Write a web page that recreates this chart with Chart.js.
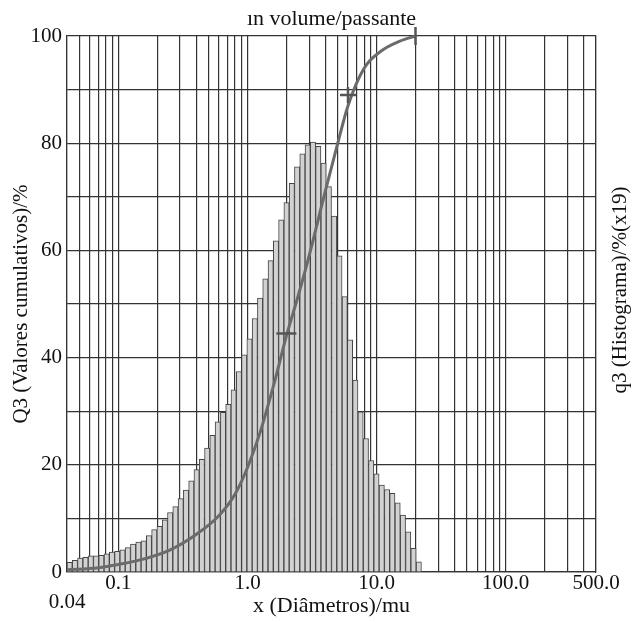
<!DOCTYPE html>
<html>
<head>
<meta charset="utf-8">
<script src="https://cdn.jsdelivr.net/npm/chart.js@4/dist/chart.umd.min.js"></script>
<style>
html,body{margin:0;padding:0;background:#fff}
canvas{display:block}
</style>
</head>
<body>
<canvas id="c" width="632" height="623"></canvas>
<script>
// ---- data ----
const xMin = 0.04;
const xMax = 500;
const binCount = 100; // size classes, log-spaced from 0.04 to 500 µm
const histValues = [
  1.8, 2.2, 2.6, 2.75, 3.0, 3.0, 3.1, 3.4, 3.7, 3.85,
  4.15, 4.55, 5.2, 5.6, 5.8, 6.8, 7.9, 8.5, 9.75, 11.1,
  12.2, 13.7, 15.3, 17.0, 19.1, 21.0, 23.1, 25.5, 28.0, 29.8,
  31.3, 34.0, 37.4, 40.5, 43.5, 47.3, 51.1, 54.7, 58.1, 61.8,
  65.7, 68.9, 72.5, 75.6, 78.0, 79.7, 80.2, 79.4, 76.3, 71.9,
  66.4, 59.0, 51.4, 43.3, 35.8, 29.9, 24.9, 20.8, 18.3, 16.2,
  15.4, 14.7, 12.9, 10.6, 7.5, 4.4, 1.9
];
const cumX = [0.04, 0.07, 0.1, 0.15, 0.25, 0.4, 0.6, 0.8, 1.0, 1.25, 1.6, 2.0, 2.5, 3.0, 4.0, 5.0, 6.0, 8.0, 11.0, 15.0, 20.0];
const cumY = [0.4, 0.8, 1.4, 2.3, 4.1, 7.0, 10.5, 14.5, 19.5, 26, 35, 44, 52, 59, 71, 80, 87, 94, 97.3, 99, 100];
const markX = [2.0, 6.0, 20.0];
const markY = [44.5, 89, 100];
const xLabelValues = [0.04, 0.1, 1, 10, 100, 500];
const xLabelTexts = ['0.04', '0.1', '1.0', '10.0', '100.0', '500.0'];
const yLabelValues = [0, 20, 40, 60, 80, 100];
const titleText = 'ın volume/passante';
const xTitle = 'x (Diâmetros)/mu';
const yTitle = 'Q3 (Valores cumulativos)/%';
const y2Title = 'q3 (Histograma)/%(x19)';

// ---- derived ----
const binRatio = Math.pow(xMax / xMin, 1 / binCount);
const histPoints = histValues.map((v, i) => ({x: xMin * Math.pow(binRatio, i + 0.5), y: v}));
const cumPoints = cumX.map((x, i) => ({x, y: cumY[i]}));
const markPoints = markX.map((x, i) => ({x, y: markY[i]}));
const gridValues = [];
for (let e = -2; e <= 2; e++) {
  for (let m = 1; m <= 9; m++) {
    const v = +(m * Math.pow(10, e)).toPrecision(6);
    if (v >= xMin - 1e-9 && v <= xMax + 1e-9) gridValues.push(v);
  }
}
const same = (a, b) => Math.abs(a - b) / b < 1e-6;

const FONT = 'Liberation Serif, Times New Roman, serif';
const INK = '#111';
const GRID = '#333333';

const rightTitlePlugin = {
  id: 'rightTitle',
  afterDraw(chart) {
    const s = chart.scales.y2;
    const ctx = chart.ctx;
    ctx.save();
    ctx.font = '21px ' + FONT;
    ctx.fillStyle = INK;
    ctx.textAlign = 'center';
    ctx.textBaseline = 'middle';
    ctx.translate(s.right - 12, (s.top + s.bottom) / 2 - 14);
    ctx.rotate(-Math.PI / 2);
    ctx.fillText(y2Title, 0, 0);
    ctx.restore();
  }
};

new Chart(document.getElementById('c'), {
  type: 'bar',
  data: {
    datasets: [
      {
        type: 'scatter',
        data: markPoints,
        pointStyle: ['line', 'cross', 'line'],
        rotation: [0, 0, 90],
        radius: [10, 8, 9],
        borderColor: '#555',
        backgroundColor: '#555',
        borderWidth: 2.5,
        clip: false,
        order: 1
      },
      {
        type: 'line',
        data: cumPoints,
        borderColor: '#6b6b6b',
        borderWidth: 3,
        pointRadius: 0,
        fill: false,
        cubicInterpolationMode: 'monotone',
        clip: false,
        order: 2
      },
      {
        type: 'bar',
        data: histPoints,
        backgroundColor: '#d2d2d2',
        borderColor: '#444444',
        borderWidth: 1,
        barPercentage: 1,
        categoryPercentage: 1,
        order: 3
      }
    ]
  },
  options: {
    responsive: false,
    animation: false,
    devicePixelRatio: 1,
    layout: {padding: 0},
    plugins: {
      legend: {display: false},
      tooltip: {enabled: false},
      title: {
        display: true,
        text: titleText,
        fullSize: false,
        color: INK,
        font: {family: FONT, size: 22, weight: 'normal', lineHeight: 1.2},
        padding: {top: 6, bottom: 3.6}
      }
    },
    scales: {
      x: {
        type: 'logarithmic',
        position: 'bottom',
        min: xMin,
        max: xMax,
        offset: false,
        z: 1,
        afterBuildTicks: (s) => { s.ticks = gridValues.map(v => ({value: v})); },
        afterFit: (s) => { s.height = 51; },
        grid: {color: GRID, lineWidth: 1.2, drawTicks: false, offset: false},
        border: {color: GRID, width: 1.2},
        ticks: {
          autoSkip: false,
          maxRotation: 0,
          minRotation: 0,
          padding: 2,
          color: INK,
          font: {family: FONT, size: 21, lineHeight: 0.9},
          callback: (value) => {
            const k = xLabelValues.findIndex(v => same(value, v));
            if (k < 0) return '';
            return k === 0 ? ['', xLabelTexts[k]] : xLabelTexts[k];
          }
        },
        title: {
          display: true,
          text: xTitle,
          color: INK,
          font: {family: FONT, size: 22, lineHeight: 1.2},
          padding: {top: 0, bottom: 4}
        }
      },
      y: {
        type: 'linear',
        position: 'left',
        min: 0,
        max: 100,
        afterFit: (s) => { s.width = 67; },
        grid: {color: GRID, lineWidth: 1.2, drawTicks: false},
        border: {color: GRID, width: 1.2},
        ticks: {
          stepSize: 10,
          padding: 5,
          color: INK,
          font: {family: FONT, size: 21},
          callback: (v) => yLabelValues.includes(v) ? String(v) : ''
        },
        title: {
          display: true,
          text: yTitle,
          color: INK,
          font: {family: FONT, size: 21, lineHeight: 1.2},
          padding: {top: 9, bottom: 0}
        }
      },
      y2: {
        type: 'linear',
        position: 'right',
        min: 0,
        max: 100,
        afterFit: (s) => { s.width = 36; },
        grid: {display: false, drawTicks: false},
        border: {color: GRID, width: 1.2},
        ticks: {display: false}
      }
    }
  },
  plugins: [rightTitlePlugin]
});
</script>
</body>
</html>
